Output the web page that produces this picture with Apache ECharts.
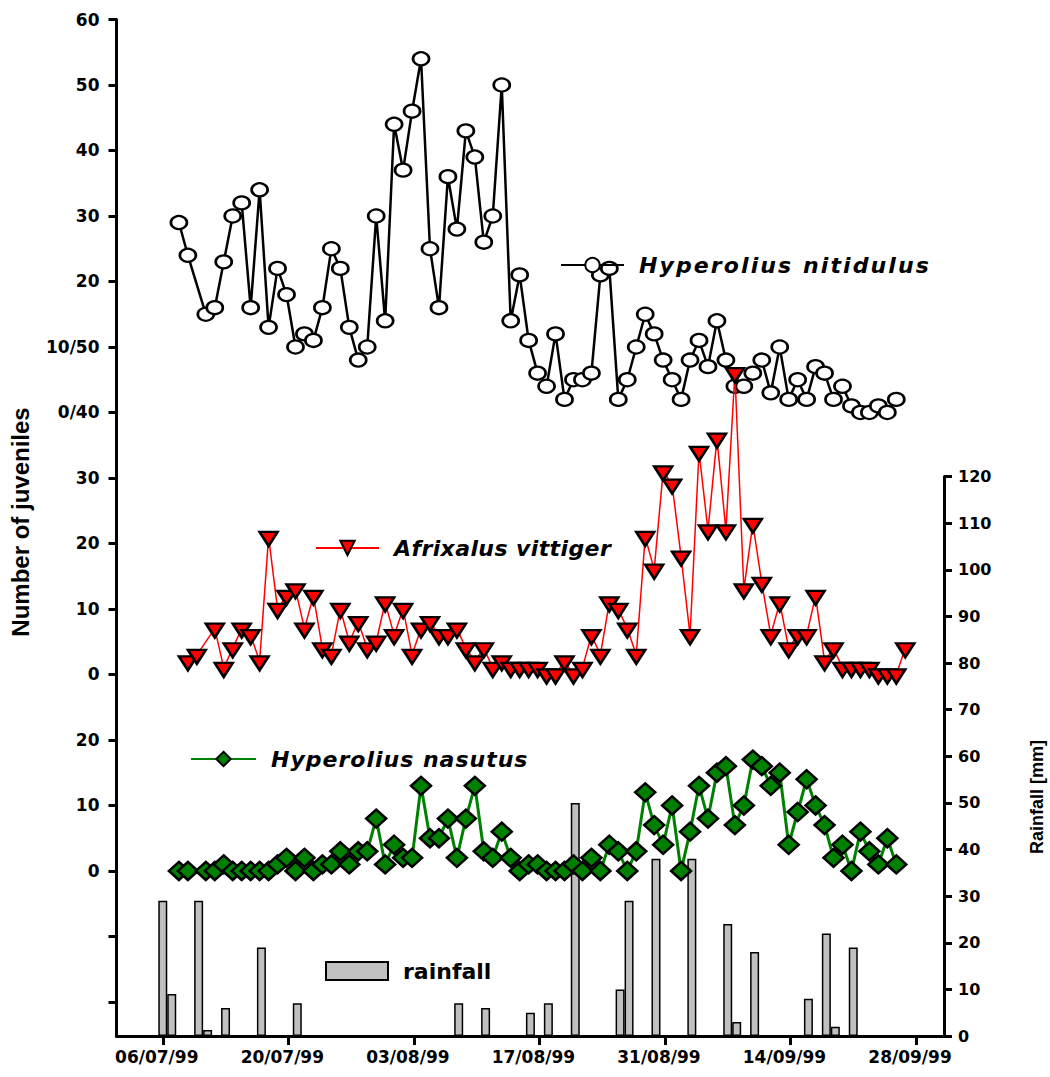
<!DOCTYPE html>
<html>
<head>
<meta charset="utf-8">
<script src="https://cdn.jsdelivr.net/npm/echarts@6/dist/echarts.min.js"></script>
<style>
html,body{margin:0;padding:0;background:#ffffff;}
#chart{width:1050px;height:1077px;}
</style>
</head>
<body>
<div id="chart"></div>
<script>
// ---------- data ----------
const startDate = [1999, 7, 6];                 // day 0 = 06/07/99
const dateTickDays = [0, 14, 28, 42, 56, 70, 84];

// left axis (stacked panels): combined scale values and their printed labels
const leftTickValues  = [-20, -10, 0, 10, 20, 30, 40, 50, 60, 70, 80, 90, 100, 110, 120, 130];
const leftLabelValues = [0, 10, 20, 30, 40, 50, 60, 70, 80, 90, 100, 110, 120, 130];
const leftLabelTexts  = ['0', '10', '20', '0', '10', '20', '30', '0/40', '10/50', '20', '30', '40', '50', '60'];

// panel baselines on the combined left scale
const nasutusBase = 0;
const afrixalusBase = 30;
const nitidulusBase = 70;

// Hyperolius nitidulus (days since 06/07/99, counts)
const nitidulusDays = [1,2,4,5,6,7,8,9,10,11,12,13,14,15,16,17,18,19,20,21,22,23,24,25,26,27,28,29,30,31,32,33,34,35,36,37,38,39,40,41,42,43,44,45,46,47,48,49,50,51,52,53,54,55,56,57,58,59,60,61,62,63,64,65,66,67,68,69,70,71,72,73,74,75,76,77,78,79,80,81];
const nitidulusCounts = [29,24,15,16,23,30,32,16,34,13,22,18,10,12,11,16,25,22,13,8,10,30,14,44,37,46,54,25,16,36,28,43,39,26,30,50,14,21,11,6,4,12,2,5,5,6,21,22,2,5,10,15,12,8,5,2,8,11,7,14,8,4,4,6,8,3,10,2,5,2,7,6,2,4,1,0,0,1,0,2];

// Afrixalus vittiger
const afrixalusDays = [2,3,5,6,7,8,9,10,11,12,13,14,15,16,17,18,19,20,21,22,23,24,25,26,27,28,29,30,31,32,33,34,35,36,37,38,39,40,41,42,43,44,45,46,47,48,49,50,51,52,53,54,55,56,57,58,59,60,61,62,63,64,65,66,67,68,69,70,71,72,73,74,75,76,77,78,79,80,81,82];
const afrixalusCounts = [2,3,7,1,4,7,6,2,21,10,12,13,7,12,4,3,10,5,8,4,5,11,6,10,3,7,8,6,6,7,4,2,4,1,2,1,1,1,1,0,0,2,0,1,6,3,11,10,7,3,21,16,31,29,18,6,34,22,36,22,46,13,23,14,6,11,4,6,6,12,2,4,1,1,1,1,0,0,0,4];

// Hyperolius nasutus
const nasutusDays = [1,2,4,5,6,7,8,9,10,11,12,13,14,15,16,17,18,19,20,21,22,23,24,25,26,27,28,29,30,31,32,33,34,35,36,37,38,39,40,41,42,43,44,45,46,47,48,49,50,51,52,53,54,55,56,57,58,59,60,61,62,63,64,65,66,67,68,69,70,71,72,73,74,75,76,77,78,79,80,81];
const nasutusCounts = [0,0,0,0,1,0,0,0,0,0,1,2,0,2,0,1,1,3,1,3,3,8,1,4,2,2,13,5,5,8,2,8,13,3,2,6,2,0,1,1,0,0,0,1,0,2,0,4,3,0,3,12,7,4,10,0,6,13,8,15,16,7,10,17,16,13,15,4,9,14,10,7,2,4,0,6,3,1,5,1];

// rainfall (mm)
const rainDays = [0,1,4,5,7,11,15,33,36,41,43,46,51,52,55,59,63,64,66,72,74,75,77];
const rainMm   = [29,9,29,1.3,6,19,7,7,6,5,7,50,10,29,38,38,24,3,18,8,22,2,19];

// counts were taken in the evening of each day
const eveningShift = 0.8;

// ---------- helpers ----------
function pad2(n){ return (n < 10 ? '0' : '') + n; }
function dayToLabel(d){
  const dt = new Date(startDate[0], startDate[1] - 1, startDate[2] + Math.round(d));
  return pad2(dt.getDate()) + '/' + pad2(dt.getMonth() + 1) + '/' + String(dt.getFullYear()).slice(2);
}
function leftLabel(v){
  const i = leftLabelValues.findIndex(x => Math.abs(x - v) < 1e-6);
  return i >= 0 ? leftLabelTexts[i] : '';
}
function toSeries(days, counts, base){
  return days.map((d, i) => [d + eveningShift, counts[i] + base]);
}

const xMin = -5.16, xMax = 87.12;
const tickFont = { fontFamily: 'DejaVu Sans', fontWeight: 'bold', color: '#000' };
const legendText = { fontFamily: 'DejaVu Sans', fontWeight: 'bold', fontStyle: 'italic', fontSize: 22, color: '#000', padding: [0, 0, 0, 10] };
const legendSpacing = { 'Hyperolius nitidulus': 2.1, 'Afrixalus vittiger': 0.4, 'Hyperolius nasutus': 1.0 };

const chart = echarts.init(document.getElementById('chart'), null, { renderer: 'svg' });
chart.setOption({
  animation: false,
  backgroundColor: '#ffffff',
  grid: [
    { left: 116.5, right: 106, top: 19.5, bottom: 41 },
    { left: 116.5, right: 106, top: 476.5, bottom: 41 }
  ],
  xAxis: [
    {
      gridIndex: 0, type: 'value', min: xMin, max: xMax,
      axisLine: { show: true, onZero: false, lineStyle: { color: '#000', width: 3 } },
      axisTick: { show: true, customValues: dateTickDays, length: 9, lineStyle: { color: '#000', width: 3 } },
      axisLabel: Object.assign({ customValues: dateTickDays, formatter: dayToLabel, fontSize: 17, margin: 12, padding: [0, 12, 0, 0] }, tickFont),
      splitLine: { show: false }
    },
    { gridIndex: 1, type: 'value', min: xMin, max: xMax, show: false }
  ],
  yAxis: [
    {
      gridIndex: 0, type: 'value', min: -25.2, max: 130, position: 'left',
      axisLine: { show: true, onZero: false, lineStyle: { color: '#000', width: 3 } },
      axisTick: { show: true, customValues: leftTickValues, length: 8, lineStyle: { color: '#000', width: 3 } },
      axisLabel: Object.assign({ customValues: leftLabelValues, formatter: leftLabel, fontSize: 17, margin: 17 }, tickFont),
      splitLine: { show: false }
    },
    {
      gridIndex: 1, type: 'value', min: 0, max: 120, interval: 10, position: 'right',
      axisLine: { show: true, onZero: false, lineStyle: { color: '#000', width: 3 } },
      axisTick: { show: true, length: 8, lineStyle: { color: '#000', width: 3 } },
      axisLabel: Object.assign({ fontSize: 16, margin: 14 }, tickFont),
      splitLine: { show: false }
    }
  ],
  legend: [
    { data: ['Hyperolius nitidulus'], left: 560, top: 254, padding: 0, itemWidth: 63, itemHeight: 18, textStyle: legendText, selectedMode: false },
    { data: ['Afrixalus vittiger'], left: 315, top: 537, padding: 0, itemWidth: 63, itemHeight: 18, textStyle: legendText, selectedMode: false },
    { data: ['Hyperolius nasutus'], left: 190, top: 748, padding: 0, itemWidth: 65, itemHeight: 18, textStyle: legendText, selectedMode: false },
    { data: ['rainfall'], left: 325, top: 960, padding: 0, itemWidth: 62, itemHeight: 18, icon: 'rect',
      textStyle: { fontFamily: 'DejaVu Sans', fontWeight: 'bold', fontSize: 22, color: '#000', padding: [0, 0, 0, 10] }, selectedMode: false }
  ],
  graphic: [
    { type: 'text', x: 20, y: 522, rotation: Math.PI / 2,
      style: { text: 'Number of juveniles', fill: '#000', font: 'bold 24px "Liberation Sans", Arial, sans-serif', textAlign: 'center', textVerticalAlign: 'middle' } },
    { type: 'text', x: 1037, y: 797, rotation: Math.PI / 2,
      style: { text: 'Rainfall [mm]', fill: '#000', font: 'bold 18px "Liberation Sans", Arial, sans-serif', textAlign: 'center', textVerticalAlign: 'middle' } }
  ],
  series: [
    {
      name: 'rainfall', type: 'bar', xAxisIndex: 1, yAxisIndex: 1, z: 1,
      data: rainDays.map((d, i) => [d, rainMm[i]]),
      barWidth: 9,
      itemStyle: { color: '#c0c0c0', borderColor: '#000', borderWidth: 1.5 }
    },
    {
      name: 'Hyperolius nitidulus', type: 'line', xAxisIndex: 0, yAxisIndex: 0, z: 3,
      data: toSeries(nitidulusDays, nitidulusCounts, nitidulusBase),
      symbol: 'circle', symbolSize: [16, 13], showSymbol: true,
      lineStyle: { color: '#000', width: 2.5 },
      itemStyle: { color: '#ffffff', borderColor: '#000', borderWidth: 2.5 }
    },
    {
      name: 'Hyperolius nasutus', type: 'line', xAxisIndex: 0, yAxisIndex: 0, z: 4,
      data: toSeries(nasutusDays, nasutusCounts, nasutusBase),
      symbol: 'diamond', symbolSize: [20, 18], showSymbol: true,
      lineStyle: { color: '#008000', width: 3 },
      itemStyle: { color: '#008000', borderColor: '#000', borderWidth: 2.5 }
    },
    {
      name: 'Afrixalus vittiger', type: 'line', xAxisIndex: 0, yAxisIndex: 0, z: 5,
      data: toSeries(afrixalusDays, afrixalusCounts, afrixalusBase),
      symbol: 'triangle', symbolRotate: 180, symbolSize: [18, 14], symbolOffset: [0, 2], showSymbol: true,
      lineStyle: { color: '#ff0000', width: 1.5 },
      itemStyle: { color: '#ff0000', borderColor: '#000', borderWidth: 2.5 }
    }
  ]
});

// widen the legend captions a little, as in the printed figure
document.querySelectorAll('#chart text').forEach(t => {
  const s = legendSpacing[t.textContent];
  if (s) t.setAttribute('letter-spacing', s);
});
</script>
</body>
</html>
